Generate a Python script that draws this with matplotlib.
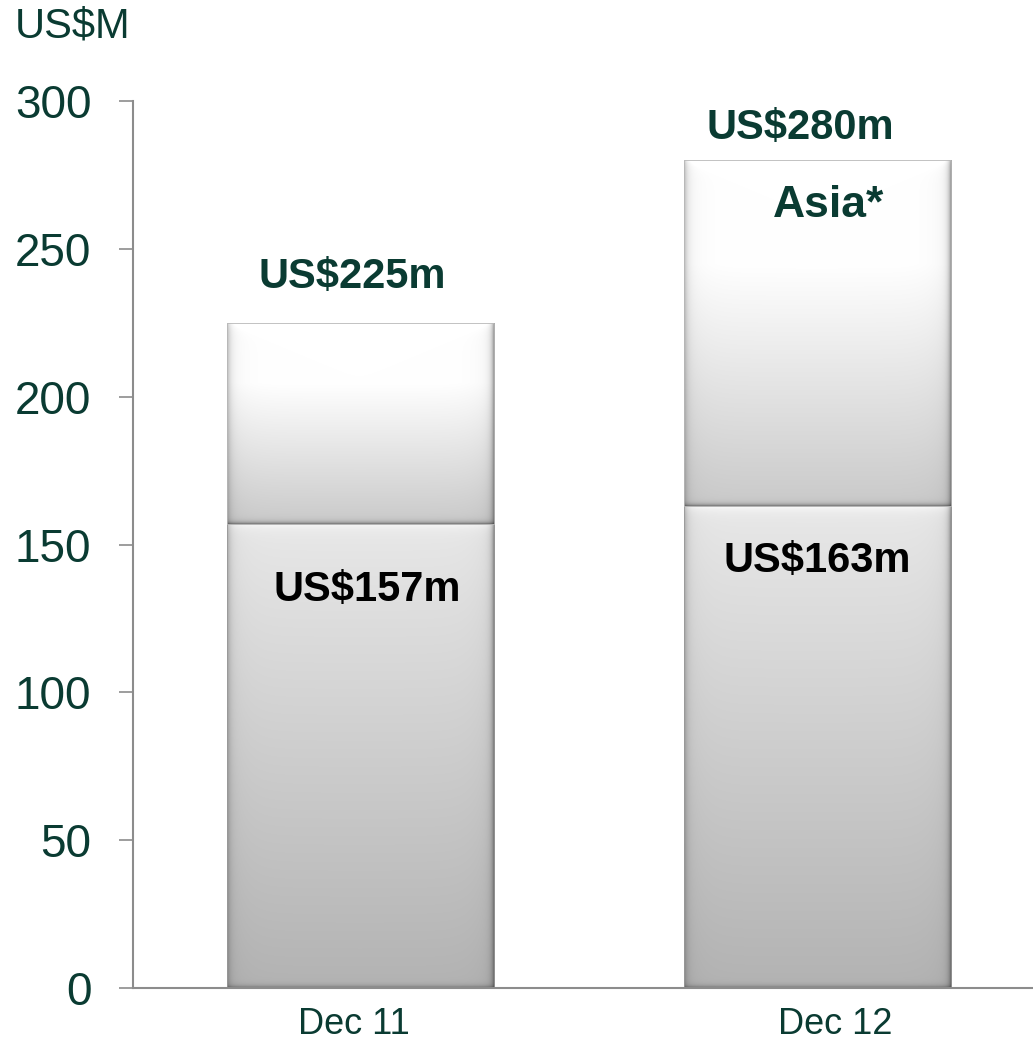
import numpy as np
import matplotlib.pyplot as plt
from matplotlib.transforms import ScaledTranslation

periods = ["Dec 11", "Dec 12"]
base_values = [157, 163]
totals = [225, 280]
top_values = [t - b for t, b in zip(totals, base_values)]
base_labels = ["US$157m", "US$163m"]
total_labels = ["US$225m", "US$280m"]
region_label = "Asia*"

GREEN = "#0a3b32"
PX_PER_UNIT = 887 / 300  # vertical pixels per US$M
plt.rcParams["font.family"] = ["Liberation Sans", "DejaVu Sans"]


def shade(patch, top_col, bottom_col, white_part=0.0):
    """fill a bar patch with a vertical grey gradient and soft bevelled edges"""
    x0, y0 = patch.get_x(), patch.get_y()
    w, h = patch.get_width(), patch.get_height()
    ny = int(h * PX_PER_UNIT)
    nx = 268
    t = np.linspace(0, 1, ny)[:, None]  # 0 = top, 1 = bottom
    if white_part > 0:
        t = np.clip((t - white_part) / (1 - white_part), 0, 1)
    v = top_col + (bottom_col - top_col) * t
    v = np.repeat(v, nx, axis=1)
    # side bevel, soft shading over a few pixels
    px = np.arange(nx)[None, :]
    left = 1 - 0.22 * np.exp(-px / 3.0) - 0.05 * np.exp(-px / 12.0)
    right = 1 - 0.45 * np.exp(-(nx - 1 - px) / 2.5) - 0.06 * np.exp(-(nx - 1 - px) / 12.0)
    v = v * left * right
    # darker line at the foot of the segment and a light strip at its head
    py = np.arange(ny)[:, None]
    v = v * (1 - 0.35 * np.exp(-(ny - 1 - py) / 2.0))
    v = np.minimum(1.0, v + 0.07 * np.exp(-py / 5.0))
    img = np.dstack([v, v, v])
    im = ax.imshow(img, extent=(x0, x0 + w, y0, y0 + h), origin="upper",
                   aspect="auto", zorder=0.5, interpolation="bilinear")
    im.set_clip_path(patch)


fig = plt.figure(figsize=(10.33, 10.41), dpi=100)
ax = fig.add_axes([133 / 1033, 1 - 988 / 1041, 1 - 133 / 1033, (988 - 101) / 1041])

x = np.arange(len(periods))
width = 0.586
low = ax.bar(x, base_values, width, facecolor="none", edgecolor="#9a9a9a", linewidth=0.6)
high = ax.bar(x, top_values, width, bottom=base_values, facecolor="none",
              edgecolor="#b8b8b8", linewidth=0.6)

for p in low:
    shade(p, 0.91, 0.70)
for p in high:
    shade(p, 1.0, 0.79, white_part=0.3)

ax.set_xlim(-0.498, 1.4716)
ax.set_ylim(0, 300)
ax.set_yticks(range(0, 301, 50))
ax.tick_params(axis="y", length=10, width=1.2, color="#8c8c8c", pad=20,
               labelsize=33, labelcolor=GREEN)
ax.set_xticks(x)
ax.set_xticklabels(periods)
ax.tick_params(axis="x", length=0, pad=14, labelsize=26, labelcolor=GREEN)
for lab, dx in zip(ax.get_xticklabels(), [-7, 18]):
    lab.set_transform(lab.get_transform() + ScaledTranslation(dx / 100, 0, fig.dpi_scale_trans))

for side in ["top", "right"]:
    ax.spines[side].set_visible(False)
for side in ["left", "bottom"]:
    ax.spines[side].set_color("#8c8c8c")
    ax.spines[side].set_linewidth(1.5)

# value labels
total_pos = [(-0.018, 240.5), (1 - 0.037, 290.8)]
base_pos = [(0.015, 134.6), (1.0, 144.4)]
for (tx, ty), s in zip(total_pos, total_labels):
    ax.text(tx, ty, s, ha="center", va="center", fontsize=30, fontweight="bold", color=GREEN)
for (tx, ty), s in zip(base_pos, base_labels):
    ax.text(tx, ty, s, ha="center", va="center", fontsize=30, fontweight="bold", color="black")
ax.text(1.025, 264.8, region_label, ha="center", va="center", fontsize=32,
        fontweight="bold", color=GREEN)

fig.text(15 / 1033, 1 - 26 / 1041, "US$M", ha="left", va="center", fontsize=30, color=GREEN)

fig.savefig("out.png", dpi=100)
